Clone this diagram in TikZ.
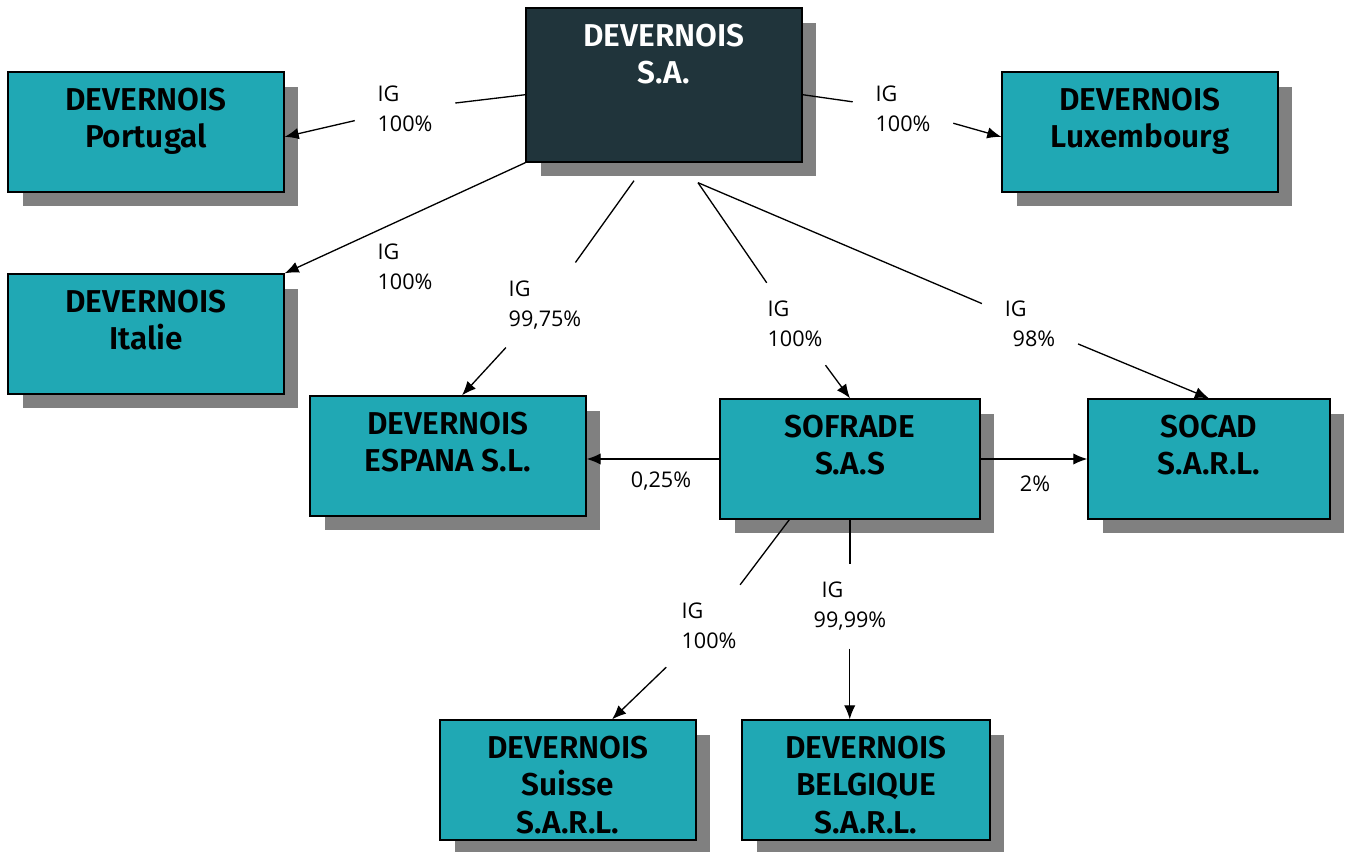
\documentclass[tikz,border=0pt]{standalone}
\usepackage{fontspec}
\setmainfont{Fira Sans}[BoldFont={Fira Sans SemiBold}]
\newfontfamily\lblfont{Open Sans}
\usetikzlibrary{positioning,shadows,arrows.meta}
\definecolor{boxteal}{HTML}{20A8B4}
\definecolor{boxdark}{HTML}{20343B}
\definecolor{shadowgray}{HTML}{808080}
\tikzset{
  company/.style={draw=black, line width=0.8pt, fill=boxteal, minimum width=5.52cm,
    minimum height=2.4cm, inner sep=0pt,
    drop shadow={shadow xshift=0.29cm, shadow yshift=-0.29cm, fill=shadowgray, opacity=1}},
  holding/.style={company, fill=boxdark, minimum height=3.08cm},
  title/.style={font=\fontsize{18}{21.5}\selectfont\bfseries, align=center, inner sep=0pt},
  share/.style={font=\lblfont\fontsize{12.3}{17}\selectfont, align=left,
    inner xsep=0.45cm, inner ysep=0.36cm},
  link/.style={line width=0.75pt},
  owns/.style={link, -{Latex[length=8pt,width=6.5pt]}}
}
\begin{document}
\begin{tikzpicture}[x=0.02cm, y=-0.02cm]
\useasboundingbox (0,0) rectangle (1347,852);

% companies
\node[holding] (sa) at (664,85) {};
\node[title, text=white, below=0.32cm of sa.north] (saText) {DEVERNOIS\\S.A.};
\node[company] (pt) at (146,132) {};
\node[title, below=0.32cm of pt.north] (ptText) {DEVERNOIS\\Portugal};
\node[company] (lu) at (1140,132) {};
\node[title, below=0.32cm of lu.north] (luText) {DEVERNOIS\\Luxembourg};
\node[company] (it) at (146,334) {};
\node[title, below=0.32cm of it.north] (itText) {DEVERNOIS\\Italie};
\node[company] (es) at (448,456) {};
\node[title, below=0.32cm of es.north] (esText) {DEVERNOIS\\ESPANA S.L.};
\node[company, minimum width=5.2cm] (sf) at (850,459) {};
\node[title, below=0.32cm of sf.north] (sfText) {SOFRADE\\S.A.S};
\node[company, minimum width=4.84cm] (sc) at (1209,459) {};
\node[title, below=0.32cm of sc.north] (scText) {SOCAD\\S.A.R.L.};
\node[company, minimum width=5.12cm] (su) at (568,780) {};
\node[title, below=0.32cm of su.north] (suText) {DEVERNOIS\\Suisse\\S.A.R.L.};
\node[company, minimum width=4.96cm] (be) at (866,780) {};
\node[title, below=0.32cm of be.north] (beText) {DEVERNOIS\\BELGIQUE\\S.A.R.L.};

% shares
\node[share] (lPT) at (405,109) {IG\\100\%};
\node[share] (lLU) at (903,109) {IG\\100\%};
\node[share] (lIT) at (405,267) {IG\\100\%};
\node[share] (lES) at (545,305) {IG\\99,75\%};
\node[share] (lSF) at (795,324) {IG\\100\%};
\node[share] (lSC) at (1030,324) {IG\\\hspace{4.5pt}98\%};
\node[share] (lSU) at (709,626) {IG\\100\%};
\node[share] (lBE) at (850,606) {\hspace{4.5pt}IG\\99,99\%};
\node[share] (lQ) at (661,481) {0,25\%};
\node[share] (l2) at (1035,484) {2\%};

% links
\draw[link] (sa.184) -- (lPT);
\draw[owns] (lPT) -- (pt.-2.5);
\draw[link] (sa.-4) -- (lLU);
\draw[owns] (lLU) -- (lu.182);
\draw[owns] (sa.south west) -- (it.north east);
\draw[link] ([xshift=-0.6cm,yshift=-0.36cm]sa.south) -- (lES);
\draw[owns] (lES) -- (es.77);
\draw[link] ([xshift=0.68cm,yshift=-0.4cm]sa.south) -- (lSF);
\draw[owns] (lSF) -- (sf.north);
\draw[link] ([xshift=0.68cm,yshift=-0.4cm]sa.south) -- (lSC);
\draw[owns] (lSC) -- (sc.north);
\draw[owns] (sf.west) -- (sf.west -| es.east);
\draw[owns] (sf.east) -- (sf.east -| sc.west);
\draw[link] (sf.225) -- (lSU);
\draw[owns] (lSU) -- (su.54);
\draw[link] (sf.south) -- (sf.south |- lBE.north);
\draw[owns] (lBE.south -| be.105) -- (be.105);
\end{tikzpicture}
\end{document}
